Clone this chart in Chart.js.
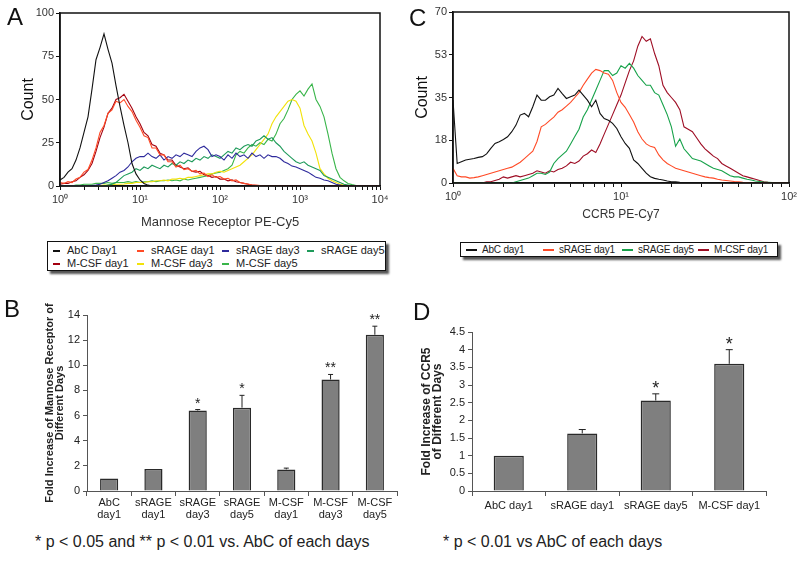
<!DOCTYPE html>
<html>
<head>
<meta charset="utf-8">
<script src="https://cdn.jsdelivr.net/npm/chart.js@4.4.1/dist/chart.umd.min.js"></script>
<style>
html,body{margin:0;padding:0;background:#fff;}
#fig{position:relative;width:800px;height:571px;overflow:hidden;font-family:'Liberation Sans',Arial,sans-serif;color:#111;}
#fig canvas{position:absolute;}
.lbl{position:absolute;font-size:24px;line-height:24px;color:#111;}
.foot{position:absolute;font-size:16px;line-height:18px;white-space:nowrap;color:#222;}
.legend{position:absolute;border:1px solid #111;background:#fff;box-shadow:3px 3px 2px #555;box-sizing:border-box;display:grid;color:#222;}
.legend .it{display:flex;align-items:center;white-space:nowrap;}
.legend .sw{display:inline-block;height:2px;flex:none;}
#legA{left:47px;top:241px;width:339px;height:30px;grid-template-columns:84px 85px 85px 1fr;padding:2px 0 0 5px;font-size:11px;line-height:13px;}
#legA .sw{width:7px;margin-right:7px;}
#legC{left:460px;top:242px;width:318px;height:15px;grid-template-columns:77px 79px 76px 1fr;padding:0 0 0 5px;font-size:10px;line-height:13px;letter-spacing:-0.2px;}
#legC .sw{width:11px;margin-right:5px;}
</style>
</head>
<body>
<div id="fig">
  <canvas id="cA" width="395" height="232" style="left:0;top:0"></canvas>
  <canvas id="cC" width="400" height="232" style="left:400px;top:0"></canvas>
  <canvas id="cB" width="400" height="235" style="left:0;top:295px"></canvas>
  <canvas id="cD" width="400" height="235" style="left:400px;top:295px"></canvas>
  <div class="lbl" style="left:7px;top:5px">A</div>
  <div class="lbl" style="left:409px;top:6px">C</div>
  <div class="lbl" style="left:4px;top:297px">B</div>
  <div class="lbl" style="left:413px;top:300px">D</div>
  <div id="legA" class="legend"></div>
  <div id="legC" class="legend"></div>
  <div class="foot" style="left:35px;top:533px">* p &lt; 0.05 and ** p &lt; 0.01 vs. AbC of each days</div>
  <div class="foot" style="left:443px;top:533px">* p &lt; 0.01 vs AbC of each days</div>
</div>
<script>
// ---------------- Panel A : Mannose Receptor PE-Cy5 histograms ----------------
const binsA = [
  1, 1.122, 1.259, 1.413, 1.585, 1.778, 1.995, 2.239, 2.512, 2.818,
  3.162, 3.548, 3.981, 4.467, 5.012, 5.623, 6.310, 7.079, 7.943, 8.913,
  10, 11.22, 12.59, 14.13, 15.85, 17.78, 19.95, 22.39, 25.12, 28.18,
  31.62, 35.48, 39.81, 44.67, 50.12, 56.23, 63.10, 70.79, 79.43, 89.13,
  100, 112.2, 125.9, 141.3, 158.5, 177.8, 199.5, 223.9, 251.2, 281.8,
  316.2, 354.8, 398.1, 446.7, 501.2, 562.3, 631.0, 707.9, 794.3, 891.3,
  1000, 1122, 1259, 1413, 1585, 1778, 1995, 2239, 2512, 2818,
  3162, 3548, 3981, 4467, 5012, 5623, 6310, 7079, 7943, 8913,
  10000];
const seriesLabelsA = ['AbC Day1', 'sRAGE day1', 'sRAGE day3', 'sRAGE day5', 'M-CSF day1', 'M-CSF day3', 'M-CSF day5'];
const abcDay1A = [
  3.5, 5, 8, 10, 15, 22, 31, 40, 56, 73,
  80, 88, 79, 71, 58, 46, 35, 25, 13, 7,
  3.5, 1.5, 0.5, 0, 0, 0, 0, 0, 0, 0,
  0, 0, 0, 0, 0, 0, 0, 0, 0, 0,
  0, 0, 0, 0, 0, 0, 0, 0, 0, 0,
  0, 0, 0, 0, 0, 0, 0, 0, 0, 0,
  0, 0, 0, 0, 0, 0, 0, 0, 0, 0,
  0, 0, 0, 0, 0, 0, 0, 0, 0, 0,
  0];
const sRageDay1A = [
  2, 1.5, 2.5, 2, 4, 5, 8, 9.5, 15, 22,
  31, 35, 42, 44, 49, 48, 50, 46, 43, 38,
  34, 29, 28, 22, 22, 18, 18, 14, 14, 11,
  12, 9.5, 10, 8.5, 9, 7, 7.5, 5.5, 6.5, 5,
  5.5, 4, 4.5, 3, 3.5, 2, 1.5, 1.2, 0.6, 0.5,
  0.2, 0, 0, 0, 0, 0, 0, 0, 0, 0,
  0, 0, 0, 0, 0, 0, 0, 0, 0, 0,
  0, 0, 0, 0, 0, 0, 0, 0, 0, 0,
  0];
const sRageDay3A = [
  0, 0, 0, 0, 0, 0, 0, 0, 0.3, 0.5,
  1, 2, 3, 4.5, 6, 8, 9, 11, 14, 16,
  17, 17, 19, 17, 16, 18, 15, 17, 16, 18,
  17, 19, 18, 17, 20, 22, 23, 21, 17, 18,
  17, 15, 18, 16, 19, 17, 18, 16, 19, 17,
  18, 16, 18, 17, 17, 16, 14, 13, 11.5, 11,
  10, 9, 8, 6.5, 5, 4.5, 3.5, 3, 2, 1,
  0.5, 0, 0, 0, 0, 0, 0, 0, 0, 0,
  0];
const sRageDay5A = [
  0, 0, 0, 0, 0, 0, 0, 0, 0, 0,
  0, 0, 0.5, 1, 2, 4, 6, 7, 8, 10,
  9, 11, 10, 12, 11, 10, 12, 11, 13, 12,
  14, 13, 15, 14, 16, 15, 17, 16, 18, 17,
  16, 18, 20, 19, 22, 21, 23, 24, 23, 26,
  27, 29, 27, 28, 25, 23, 20, 18, 16, 14,
  13, 14, 12, 11, 10, 9, 6, 5, 4, 3,
  2, 1, 0.5, 0, 0, 0, 0, 0, 0, 0,
  0];
const mcsfDay1A = [
  1, 1.5, 1.5, 2.5, 3, 5, 6.5, 9, 13, 20,
  28, 34, 42, 45, 50, 51, 53, 49, 45, 40,
  36, 31, 29, 24, 23, 19, 18, 15, 15, 12,
  11, 10, 10.5, 8.5, 8, 8.5, 6.5, 6, 5, 5.5,
  4, 4, 3, 3.5, 2.5, 2, 1.5, 1, 0.5, 0.3,
  0, 0, 0, 0, 0, 0, 0, 0, 0, 0,
  0, 0, 0, 0, 0, 0, 0, 0, 0, 0,
  0, 0, 0, 0, 0, 0, 0, 0, 0, 0,
  0];
const mcsfDay3A = [
  0, 0, 0, 0, 0, 0, 0, 0, 0, 0,
  0.3, 0.5, 0.5, 0.8, 1, 1, 1.2, 1.5, 1.5, 2,
  2, 2, 2.5, 2.5, 3, 3, 3.5, 3, 4, 4,
  4.5, 4, 5, 5, 5.5, 6, 6.5, 7, 7, 8,
  8.5, 8, 9, 10, 11, 12, 14, 16, 18, 21,
  24, 27, 30, 36, 40, 43, 46, 49, 50, 49,
  45, 35, 30, 26, 19, 10, 7, 4.5, 3, 2,
  1, 0.5, 0, 0, 0, 0, 0, 0, 0, 0,
  0];
const mcsfDay5A = [
  0, 0, 0, 0, 0.5, 0.5, 1, 1, 1, 1.5,
  1.5, 1.5, 2, 1.5, 2, 2, 2, 2.5, 2, 2.5,
  2, 2.5, 2.5, 3, 2.5, 3, 3, 3.5, 3, 3.5,
  3, 4, 3.5, 4, 4.5, 5, 5.5, 6, 7, 7.5,
  8, 9, 10, 12, 18, 20, 19, 22, 24, 23,
  25, 24, 27, 26, 30, 36, 39, 44, 50, 53,
  55, 52, 56, 59, 50, 46, 40, 30, 19, 10,
  5, 3, 1.5, 0.8, 0.3, 0, 0, 0, 0, 0,
  0];
const yTicksA = [0, 25, 50, 75, 100];
const decadeLabels = ['10\u2070', '10\u00b9', '10\u00b2', '10\u00b3', '10\u2074'];

// ---------------- Panel C : CCR5 PE-Cy7 histograms ----------------
const binsC = [
  1, 1.059, 1.122, 1.189, 1.259, 1.334, 1.413, 1.496, 1.585, 1.679,
  1.778, 1.884, 1.995, 2.113, 2.239, 2.371, 2.512, 2.661, 2.818, 2.985,
  3.162, 3.350, 3.548, 3.758, 3.981, 4.217, 4.467, 4.732, 5.012, 5.309,
  5.623, 5.957, 6.310, 6.683, 7.079, 7.499, 7.943, 8.414, 8.913, 9.441,
  10, 10.59, 11.22, 11.89, 12.59, 13.34, 14.13, 14.96, 15.85, 16.79,
  17.78, 18.84, 19.95, 21.13, 22.39, 23.71, 25.12, 26.61, 28.18, 29.85,
  31.62, 33.50, 35.48, 37.58, 39.81, 42.17, 44.67, 47.32, 50.12, 53.09,
  56.23, 59.57, 63.10, 66.83, 70.79, 74.99, 79.43, 84.14, 89.13, 94.41,
  100];
const seriesLabelsC = ['AbC day1', 'sRAGE day1', 'sRAGE day5', 'M-CSF day1'];
const abcDay1C = [
  34, 8, 8.7, 9.4, 9.7, 10, 10.5, 10.8, 11.9, 14.2,
  16.2, 16.9, 17.8, 18.9, 21, 23.7, 27.8, 28.5, 27.1, 31.2,
  36, 33.9, 33.9, 35.3, 36, 38.7, 36.6, 34.6, 35.3, 36,
  38, 36, 33.9, 31.2, 33.9, 28.5, 26.4, 25.7, 24.4, 22.3,
  18.9, 16.2, 14.2, 9.4, 8, 6, 4, 2.6, 1.9, 1.5,
  1.2, 0.8, 0.5, 0.5, 0.3, 0.2, 0.1, 0, 0, 0,
  0, 0, 0, 0, 0, 0, 0, 0, 0, 0,
  0, 0, 0, 0, 0, 0, 0, 0, 0, 0,
  0];
const sRageDay1C = [
  6, 3, 2.5, 2.5, 2, 2.2, 2.5, 3, 3.5, 4,
  4.5, 5, 5.5, 6, 6.5, 7.5, 8.5, 10, 11.5, 13,
  17, 23, 24, 25.5, 27, 29, 30, 31.5, 33, 35,
  37, 40, 42.5, 45, 46.5, 46, 45, 44.5, 42, 37,
  33, 31, 28, 25, 21, 18, 16, 15, 14.5, 11.5,
  9.5, 8, 7, 6, 5.5, 5, 4.5, 4, 3.5, 3,
  2.5, 2.2, 2, 1.5, 1.2, 1, 0.8, 0.6, 0.5, 0.3,
  0.2, 0, 0, 0, 0, 0, 0, 0, 0, 0,
  0];
const sRageDay5C = [
  0, 0, 0, 0, 0, 0, 0, 0, 0, 0,
  0, 0, 0, 0, 0, 0.5, 1, 1.5, 2, 3,
  4, 4, 3.5, 4.5, 8, 10, 11.5, 13, 16, 19,
  22, 27, 30, 34, 38, 42, 46, 46, 44, 45,
  48, 47, 49, 47, 44, 42, 40, 40, 37, 36,
  32, 28, 23, 15, 18, 14, 12, 10, 9.5, 9,
  8, 7, 6, 5.5, 5, 4, 3, 2.5, 2.5, 2,
  1.5, 1.2, 0.8, 0.6, 0.4, 0.3, 0.2, 0.1, 0, 0,
  0];
const mcsfDay1C = [
  0, 0, 0, 0, 0, 0, 0, 0, 0.5, 0.5,
  1, 1.5, 2.5, 2, 2.5, 3, 2.5, 3, 3.5, 4,
  5, 4.5, 4, 5, 4.5, 5.5, 6, 7, 8.5, 8,
  9, 11, 12, 13.5, 12.5, 16, 20, 24, 28, 32,
  36, 41, 46, 50, 56, 60, 58, 59, 53, 48,
  40, 37, 35, 33, 30, 23, 22, 21, 18.5, 16,
  14, 12.5, 11, 10, 8, 7, 6, 5, 4, 3,
  2.5, 2, 1.5, 1, 0.5, 0.3, 0.2, 0, 0, 0,
  0];
const yTicksC = [0, 17.5, 35, 52.5, 70];

// ---------------- Panel B : fold increase of mannose receptor ----------------
const categoriesB = ['AbC day1', 'sRAGE day1', 'sRAGE day3', 'sRAGE day5', 'M-CSF day1', 'M-CSF day3', 'M-CSF day5'];
const foldMR = [1.0, 1.75, 6.4, 6.63, 1.72, 8.87, 12.43];
const errMR = [0, 0, 0.08, 0.98, 0.1, 0.4, 0.68];
const sigMR = ['', '', '*', '*', '', '**', '**'];

// ---------------- Panel D : fold increase of CCR5 ----------------
const categoriesD = ['AbC day1', 'sRAGE day1', 'sRAGE day5', 'M-CSF day1'];
const foldCCR5 = [1.0, 1.63, 2.56, 3.6];
const errCCR5 = [0, 0.11, 0.19, 0.4];
const sigCCR5 = ['', '', '*', '*'];

// ---------------- styles ----------------
const colorsA = ['#111111', '#ff4a26', '#2e2a9c', '#1e9a5a', '#a3000f', '#f2e20a', '#39b54a'];
const colorsC = ['#111111', '#ff4a26', '#17a24a', '#9e0d24'];
const FONT = "'Liberation Sans', Arial, sans-serif";
const NARROW = "'Liberation Sans Narrow', 'Arial Narrow', 'Liberation Sans', Arial, sans-serif";
Chart.defaults.font.family = FONT;
Chart.defaults.color = '#333';

const framePlugin = {
  id: 'frame',
  afterDraw(chart) {
    const {ctx, chartArea: a} = chart;
    ctx.save();
    ctx.strokeStyle = '#111';
    ctx.lineWidth = 1.5;
    ctx.strokeRect(a.left, a.top, a.right - a.left, a.bottom - a.top);
    ctx.restore();
  }
};

const htmlLegend = {
  id: 'htmlLegend',
  afterUpdate(chart, args, opts) {
    const box = document.getElementById(opts.containerID);
    box.innerHTML = '';
    const items = chart.options.plugins.legend.labels.generateLabels(chart);
    items.forEach(item => {
      const it = document.createElement('div');
      it.className = 'it';
      const sw = document.createElement('span');
      sw.className = 'sw';
      sw.style.background = chart.data.datasets[item.datasetIndex].borderColor;
      const tx = document.createElement('span');
      tx.textContent = item.text;
      it.append(sw, tx);
      box.append(it);
    });
  }
};

const errPlugin = {
  id: 'errBars',
  afterDatasetsDraw(chart, args, o) {
    const {ctx} = chart;
    const y = chart.scales.y;
    const meta = chart.getDatasetMeta(0);
    const vals = chart.data.datasets[0].data;
    ctx.save();
    meta.data.forEach((bar, i) => {
      const e = o.errors[i] || 0;
      const top = y.getPixelForValue(vals[i] + e);
      if (e > 0) {
        ctx.strokeStyle = '#222';
        ctx.lineWidth = 1;
        ctx.beginPath();
        ctx.moveTo(bar.x, bar.y);
        ctx.lineTo(bar.x, top);
        ctx.moveTo(bar.x - o.cap, top);
        ctx.lineTo(bar.x + o.cap, top);
        ctx.stroke();
      }
      if (o.stars[i]) {
        ctx.fillStyle = '#222';
        ctx.font = o.size + 'px ' + FONT;
        ctx.textAlign = 'center';
        ctx.textBaseline = 'alphabetic';
        ctx.fillText(o.stars[i], bar.x, top + o.gap);
      }
    });
    ctx.restore();
  }
};

function keepIntegerMantissa(scale) {
  scale.ticks = scale.ticks.filter(t => {
    const m = t.value / Math.pow(10, Math.floor(Math.log10(t.value) + 1e-9));
    return Math.abs(m - Math.round(m)) < 1e-6;
  });
}
function decadeLabel(v) {
  const e = Math.log10(v);
  return Math.abs(e - Math.round(e)) < 1e-6 ? decadeLabels[Math.round(e)] : '';
}

function histogram(id, bins, series, labels, colors, cfg) {
  return new Chart(document.getElementById(id), {
    type: 'line',
    data: {
      datasets: series.map((vals, i) => ({
        label: labels[i],
        data: bins.map((x, k) => ({x: x, y: vals[k]})),
        borderColor: colors[i],
        backgroundColor: colors[i],
        borderWidth: 1.1,
        pointRadius: 0,
        tension: 0,
        fill: false
      }))
    },
    options: {
      responsive: false, animation: false, devicePixelRatio: 1,
      layout: {padding: cfg.padding},
      plugins: {legend: {display: false}, tooltip: {enabled: false}, htmlLegend: {containerID: cfg.legend}},
      scales: {
        x: {
          type: 'logarithmic', min: cfg.xmin, max: cfg.xmax,
          afterBuildTicks: keepIntegerMantissa,
          afterFit: s => { s.height = cfg.xh; },
          grid: {drawOnChartArea: false, drawTicks: true, tickLength: 4, color: '#111'},
          border: {display: true, color: '#111', width: 1.5},
          ticks: {autoSkip: false, maxRotation: 0, padding: 3, color: '#333', font: {size: 11}, callback: decadeLabel},
          title: {display: true, text: cfg.xtitle, color: '#333', font: {size: cfg.xtitleSize, lineHeight: 1}, padding: {top: 0, bottom: cfg.xtitlePad}}
        },
        y: {
          min: cfg.ymin, max: cfg.ymax,
          afterBuildTicks: s => { s.ticks = cfg.yticks.map(v => ({value: v})); },
          afterFit: s => { s.width = cfg.yw; },
          grid: {drawOnChartArea: false, drawTicks: true, tickLength: 4, color: '#111'},
          border: {display: true, color: '#111', width: 1.5},
          ticks: {padding: 2, color: '#333', font: {size: 11}, callback: v => String(Math.round(v))},
          title: {display: true, text: 'Count', color: '#111', font: {size: 16, lineHeight: 1}, padding: {top: cfg.ytitlePad, bottom: 0}}
        }
      }
    },
    plugins: [framePlugin, htmlLegend]
  });
}

histogram('cA', binsA,
  [abcDay1A, sRageDay1A, sRageDay3A, sRageDay5A, mcsfDay1A, mcsfDay3A, mcsfDay5A],
  seriesLabelsA, colorsA,
  {padding: {top: 13, right: 15, left: 0, bottom: 0}, legend: 'legA', xmin: 1, xmax: 10000, xh: 46,
   xtitle: 'Mannose Receptor PE-Cy5', xtitleSize: 13, xtitlePad: 3, ymin: 0, ymax: 100, yticks: yTicksA, yw: 60, ytitlePad: 21});

histogram('cC', binsC,
  [abcDay1C, sRageDay1C, sRageDay5C, mcsfDay1C],
  seriesLabelsC, colorsC,
  {padding: {top: 12, right: 11, left: 0, bottom: 0}, legend: 'legC', xmin: 1, xmax: 100, xh: 49,
   xtitle: 'CCR5 PE-Cy7', xtitleSize: 12, xtitlePad: 11, ymin: 0, ymax: 70, yticks: yTicksC, yw: 53, ytitlePad: 15});

function foldBars(id, cats, vals, errs, stars, cfg) {
  return new Chart(document.getElementById(id), {
    type: 'bar',
    data: {
      labels: cfg.split ? cats.map(c => c.split(' ')) : cats,
      datasets: [{data: vals, backgroundColor: '#7f7f7f', borderColor: '#2a2a2a', borderWidth: 1.5,
                  barPercentage: 0.41, categoryPercentage: 1}]
    },
    options: {
      responsive: false, animation: false, devicePixelRatio: 1,
      layout: {padding: cfg.padding},
      plugins: {legend: {display: false}, tooltip: {enabled: false},
                errBars: {errors: errs, stars: stars, size: cfg.starSize, cap: cfg.cap, gap: cfg.starGap}},
      scales: {
        x: {
          afterFit: s => { s.height = cfg.xh; },
          grid: {offset: true, drawOnChartArea: false, tickLength: 5, color: '#555'},
          border: {display: true, color: '#555', width: 1},
          ticks: {color: '#222', padding: cfg.xpad, autoSkip: false, maxRotation: 0, font: {family: NARROW, size: 11, lineHeight: 1.1}}
        },
        y: {
          min: 0, max: cfg.ymax,
          afterFit: s => { s.width = cfg.yw; },
          grid: {drawOnChartArea: false, tickLength: 4, color: '#555'},
          border: {display: true, color: '#555', width: 1},
          ticks: {stepSize: cfg.step, color: '#222', padding: 3, font: {size: 11}, callback: v => String(v)},
          title: {display: true, text: cfg.ytitle, color: '#222',
                  font: {size: cfg.ytitleSize, weight: 'bold', lineHeight: cfg.ytitleLH}, padding: {top: cfg.ytitlePad, bottom: 0}}
        }
      }
    },
    plugins: [errPlugin]
  });
}

foldBars('cB', categoriesB, foldMR, errMR, sigMR,
  {split: true, padding: {top: 20, right: 3, left: 0, bottom: 0}, xh: 39, xpad: 1, yw: 87, ymax: 14, step: 2,
   ytitle: ['Fold Increase of Mannose Receptor of', 'Different Days'], ytitleSize: 11, ytitleLH: 0.92, ytitlePad: 45,
   starSize: 14, cap: 2.5, starGap: -2});

foldBars('cD', categoriesD, foldCCR5, errCCR5, sigCCR5,
  {split: false, padding: {top: 37, right: 34, left: 0, bottom: 0}, xh: 39, xpad: 4, yw: 72, ymax: 4.5, step: 0.5,
   ytitle: ['Fold Increase of CCR5', 'of Different Days'], ytitleSize: 12, ytitleLH: 0.85, ytitlePad: 22,
   starSize: 18, cap: 3.5, starGap: 0});
</script>
</body>
</html>
